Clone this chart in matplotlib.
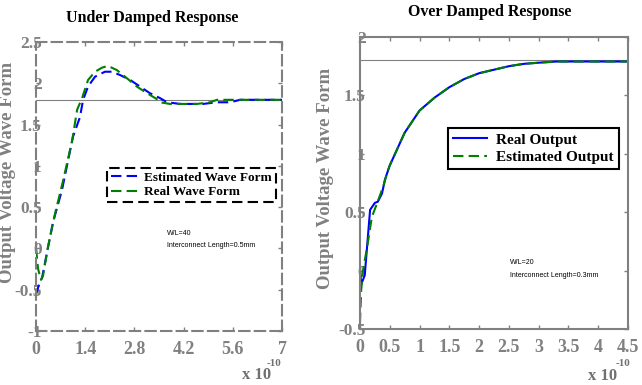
import matplotlib
matplotlib.use("Agg")
import matplotlib.pyplot as plt

# ---------------- data ----------------
# Under damped (x in units of 1e-10 s)
ud_est_t = [0.0, 0.11, 0.17, 0.48, 0.74, 1.05, 1.25, 1.34, 1.48, 1.68, 1.96, 2.16, 2.39,
            2.68, 2.96, 3.24, 3.53, 3.73, 4.10, 4.75, 5.15, 5.52, 5.81, 7.0]
ud_est_v = [-0.56, -0.40, -0.36, 0.31, 0.71, 1.35, 1.59, 1.80, 1.96, 2.08, 2.14, 2.14, 2.10,
            2.04, 1.96, 1.88, 1.82, 1.77, 1.75, 1.75, 1.77, 1.77, 1.80, 1.80]
ud_real_t = [0.0, 0.06, 0.14, 0.20, 0.34, 0.54, 0.77, 1.03, 1.17, 1.31, 1.48, 1.68, 1.88,
             2.05, 2.30, 2.59, 2.87, 3.16, 3.47, 3.53, 3.81, 4.58, 4.95, 5.15, 7.0]
ud_real_v = [0.0, -0.25, -0.38, -0.33, 0.02, 0.42, 0.82, 1.31, 1.68, 1.82, 2.04, 2.14, 2.19,
             2.21, 2.16, 2.06, 1.96, 1.88, 1.80, 1.77, 1.75, 1.75, 1.77, 1.80, 1.80]

# Over damped
od_real_t = [0.0, 0.02, 0.08, 0.17, 0.25, 0.30, 0.37, 0.42, 0.50, 0.75, 1.0, 1.25, 1.5,
             1.75, 2.0, 2.25, 2.5, 2.75, 3.0, 3.3, 4.5]
od_real_v = [0.02, -0.12, -0.04, 0.52, 0.58, 0.59, 0.66, 0.78, 0.90, 1.18, 1.37, 1.48, 1.57,
             1.64, 1.69, 1.72, 1.75, 1.77, 1.78, 1.79, 1.79]
od_est_t = [0.0, 0.02, 0.05, 0.12, 0.20, 0.29, 0.39, 0.47, 0.50, 0.75, 1.0, 1.25, 1.5,
            1.75, 2.0, 2.25, 2.5, 2.75, 3.0, 3.3, 4.5]
od_est_v = [-0.45, -0.17, 0.0, 0.20, 0.46, 0.58, 0.72, 0.86, 0.90, 1.18, 1.37, 1.48, 1.57,
            1.64, 1.69, 1.72, 1.75, 1.77, 1.78, 1.79, 1.79]

ud_xticks = [0, 1.4, 2.8, 4.2, 5.6, 7]
ud_yticks = [-1, -0.5, 0, 0.5, 1, 1.5, 2, 2.5]
od_xticks = [0, 0.5, 1, 1.5, 2, 2.5, 3, 3.5, 4, 4.5]
od_yticks = [-0.5, 0, 0.5, 1, 1.5, 2]
steady = 1.8

# ---------------- figure ----------------
fig = plt.figure(figsize=(6.42, 3.85), dpi=100)
serif = "Liberation Serif"
grey = "#808080"

axL = fig.add_axes([0.0561, 0.1403, 0.3832, 0.7506])
axR = fig.add_axes([0.5607, 0.1455, 0.4175, 0.7584])

def style(ax, xt, yt, xlim, ylim, dashed):
    ax.set_xlim(*xlim)
    ax.set_ylim(*ylim)
    ax.set_xticks(xt)
    ax.set_yticks(yt)
    ax.set_xticklabels([("%g" % v) for v in xt])
    ax.set_yticklabels([("%g" % v) for v in yt])
    ax.tick_params(direction="in", length=3, width=1, color=grey, labelcolor=grey,
                   top=True, right=True, labelsize=13)
    ax.tick_params(axis="y", pad=-4, labelsize=12.5)
    ax.tick_params(axis="x", pad=7)
    for lab in ax.get_xticklabels() + ax.get_yticklabels():
        lab.set_fontfamily(serif)
        lab.set_fontweight("bold")
    for sp in ax.spines.values():
        sp.set_color(grey)
        sp.set_linewidth(1.5)
        if dashed:
            sp.set_linestyle((0, (5, 2.5)))
    ax.axhline(steady, color=grey, lw=0.8, zorder=1)

style(axL, ud_xticks, ud_yticks, (0, 7), (-1, 2.5), True)
style(axR, od_xticks, od_yticks, (0, 4.5), (-0.5, 2), False)

dash = (0, (5, 2.5))
l1, = axL.plot(ud_est_t, ud_est_v, color="#0000FF", lw=1.5, ls=dash, label="Estimated Wave Form")
l2, = axL.plot(ud_real_t, ud_real_v, color="#008000", lw=1.5, ls=dash, label="Real Wave Form")
r1, = axR.plot(od_real_t, od_real_v, color="#0000FF", lw=1.5, label="Real Output")
r2, = axR.plot(od_est_t, od_est_v, color="#008000", lw=1.5, ls=dash, label="Estimated Output")

legL = axL.legend(handles=[l1, l2], loc="upper left", bbox_to_anchor=(0.29, 0.565),
                  prop=dict(family=serif, weight="bold", size=9.5), frameon=True,
                  fancybox=False, borderaxespad=0, handlelength=2.0, handletextpad=0.5,
                  labelspacing=0.15, borderpad=0.3)
fr = legL.get_frame()
fr.set_edgecolor("black"); fr.set_linewidth(1.5); fr.set_linestyle((0, (5, 2.5)))
fr.set_alpha(1)

legR = axR.legend(handles=[r1, r2], loc="upper left", bbox_to_anchor=(0.328, 0.69),
                  prop=dict(family=serif, weight="bold", size=11), frameon=True,
                  fancybox=False, borderaxespad=0, handlelength=2.2, handletextpad=0.6,
                  labelspacing=0.25, borderpad=0.35)
fr = legR.get_frame()
fr.set_edgecolor("black"); fr.set_linewidth(1.5); fr.set_alpha(1)

# annotations
ann = dict(fontsize=5, family="Liberation Sans", va="center")
axL.text(3.73, 0.18, "W/L=40", **ann)
axL.text(3.73, 0.04, "Interconnect Length=0.5mm", **ann)
axR.text(2.52, 0.07, "W/L=20", **ann)
axR.text(2.52, -0.04, "Interconnect Length=0.3mm", **ann)

# titles
fig.text(152 / 642, 1 - 18 / 385, "Under Damped Response", ha="center", va="center",
         family=serif, weight="bold", fontsize=11.5)
fig.text(490 / 642, 1 - 12 / 385, "Over Damped Response", ha="center", va="center",
         family=serif, weight="bold", fontsize=11.5)

# y labels
fig.text(8 / 642, 1 - 172 / 385, "Output Voltage Wave Form", rotation=90, ha="center",
         va="center", family=serif, weight="bold", fontsize=13.5, color=grey)
fig.text(326 / 642, 1 - 178 / 385, "Output Voltage Wave Form", rotation=90, ha="center",
         va="center", family=serif, weight="bold", fontsize=13.5, color=grey)

# exponent labels
for (xb, yb, xs, ys) in [(257, 375, 274, 363), (603, 376, 623, 364)]:
    fig.text(xb / 642, 1 - yb / 385, "x 10", ha="center", va="center", family=serif,
             weight="bold", fontsize=12, color="#707070")
    fig.text(xs / 642, 1 - ys / 385, "-10", ha="center", va="center", family=serif,
             weight="bold", fontsize=8, color="#707070")

fig.savefig("out.png", dpi=100)
